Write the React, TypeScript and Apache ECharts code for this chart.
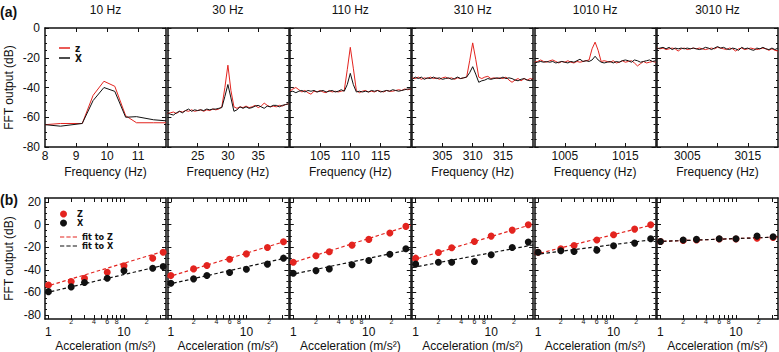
import { useEffect, useRef } from 'react';
import * as echarts from 'echarts';

// ---------- data ----------
const panelTitles = ['10 Hz', '30 Hz', '110 Hz', '310 Hz', '1010 Hz', '3010 Hz'];
const centerFreqs = [10, 30, 110, 310, 1010, 3010];

// (a) FFT spectra
const freq10 = [8, 8.5, 9.2, 9.55, 9.9, 10.25, 10.6, 10.95, 11.5, 11.9];
const spec10Z = [-65, -64.2, -64.2, -45.3, -35.8, -39.2, -59, -63.7, -63.7, -63.7];
const spec10X = [-65, -66, -64.2, -48.8, -40, -42.6, -60, -59.6, -61.7, -62.4];

// frequency bins (offset from the centre frequency, Hz)
const binOffsets = [-10, -9.5, -9, -8.5, -8, -7.5, -7, -6.5, -6, -5.5, -5, -4.5, -4, -3.5, -3, -2.5, -2, -1.5, -1, -0.5, 0, 0.5, 1, 1.5, 2, 2.5, 3, 3.5, 4, 4.5, 5, 5.5, 6, 6.5, 7, 7.5, 8, 8.5, 9, 9.5, 10];

const spec30Z = [-57.5, -57, -56.5, -57.5, -56, -56.5, -55.5, -56, -55, -56, -55.5, -55, -56, -55, -55.5, -54.5, -55, -54.5, -53, -40, -25, -42, -53, -54, -53, -53.5, -52.5, -53.5, -53, -52, -53.5, -52.5, -50.5, -52, -53, -52.5, -53, -52, -52.5, -51.5, -51];
const spec30X = [-57, -58, -58.5, -57, -56, -57, -55.5, -54.5, -56, -55, -55.5, -55, -55.5, -54.5, -55, -54.5, -54.5, -54, -53.5, -46, -38, -47, -56, -55, -53, -54, -53, -54, -53.5, -52.5, -52, -53, -54, -52.5, -53, -52, -52, -53, -52, -51.5, -51];
const spec110Z = [-42.5, -41, -40, -41.5, -43, -42, -43.5, -44.5, -42.5, -43, -42, -43, -43.5, -42, -43, -42.5, -43, -42.5, -42, -28, -13, -27, -42, -43.5, -42.5, -42, -43, -42.5, -43, -42, -42.5, -43, -42, -42.5, -42.5, -42, -41.5, -42, -41, -41.5, -41];
const spec110X = [-43, -42.5, -43.5, -42.5, -42, -43, -42, -42.5, -42, -43, -42.5, -42, -43, -42.5, -42, -43, -42.5, -41.5, -42.5, -38, -30.5, -38, -43, -42.5, -43, -42.5, -43, -42, -42.5, -42, -43, -42.5, -42, -42.5, -41.5, -42, -42.5, -42, -41.5, -41, -41];
const spec310Z = [-33.5, -34, -33, -34.5, -33.5, -34, -33, -34, -33.5, -34.5, -33.5, -33, -34, -33.5, -34.5, -33.5, -34, -33.5, -33, -22, -10, -21, -33, -34, -33, -32.5, -34, -33.5, -34, -33.5, -34, -33, -35, -36.5, -35, -34, -35.5, -34, -35, -34, -34.5];
const spec310X = [-34.5, -33, -34, -33, -34.5, -33.5, -34, -33, -34, -33.5, -34.5, -34, -33.5, -34.5, -34, -33, -34, -33.5, -33, -30, -26, -31, -36.5, -35.5, -35, -34, -34.5, -34, -33.5, -34, -33, -34, -33.5, -34, -35, -35.5, -34.5, -34, -35, -35.5, -34];
const spec1010Z = [-23, -22.5, -21.5, -22.5, -23, -22, -21.5, -22.5, -23.5, -22.5, -23, -22, -23, -23.5, -22.5, -23, -22.5, -22, -21.5, -14, -9.5, -15, -22.5, -22, -22.5, -23, -22, -23.5, -23, -22, -23, -22.5, -22, -23.5, -25.5, -24, -22.5, -23.5, -23, -22.5, -23];
const spec1010X = [-23.5, -23, -22.5, -23, -22.5, -23, -22.5, -23.5, -23, -22.5, -23, -23.5, -22.5, -23, -22, -21, -22.5, -22, -22.5, -21.5, -19, -21.5, -23, -23.5, -23, -22.5, -23.5, -22.5, -23, -22, -21.5, -22, -23, -21.5, -22, -23, -22.5, -22, -21.5, -22.5, -22];
const spec3010Z = [-13.5, -14, -13.5, -14.5, -14, -13.5, -14, -15.5, -14, -13.5, -14.5, -14, -13.5, -14, -13.5, -14, -14.5, -14, -13.5, -14, -13, -13.5, -14, -14.5, -13.5, -14, -15.5, -14, -13.5, -14.5, -14, -13.5, -14, -14.5, -14, -13.5, -14, -15, -14, -15, -15.5];
const spec3010X = [-14, -13.5, -13, -14, -13, -14.5, -13.5, -14, -13.5, -14, -13.5, -14, -13.5, -14, -14.5, -14, -13, -13.5, -14.5, -13.5, -12.5, -13.5, -13, -14, -14.5, -13.5, -14, -15, -13, -14, -13.5, -14.5, -15, -13.5, -14, -13, -14, -14.5, -13.5, -14.5, -13.5];

const freqRanges = [[8, 11.9], [20, 40], [100, 120], [300, 320], [1000, 1020], [3000, 3020]];
const freqLabels = [[8, 9, 10, 11], [25, 30, 35], [105, 110, 115], [305, 310, 315], [1005, 1015], [3005, 3015]];
const freqTicks = [[9, 10, 11], [25, 30, 35], [105, 110, 115], [305, 310, 315], [1005, 1010, 1015], [3005, 3010, 3015]];
const dbTicksA = [-80, -60, -40, -20, 0];

// (b) response vs acceleration
const accel10 = [1, 2, 3, 6, 10, 24, 33];
const accelHigh = [1, 2, 3, 6, 10, 19, 31];
const resp10Z = [-53.4, -50.4, -47.5, -42.1, -36.5, -29.7, -24.4];
const resp10X = [-59.3, -55.1, -51.3, -47.5, -40.9, -38.6, -37.1];
const resp30Z = [-45.1, -39.2, -36.2, -30.6, -25.9, -20.2, -15.2];
const resp30X = [-51.9, -48, -45.1, -42.4, -39.5, -35, -29.7];
const resp110Z = [-33.3, -27.6, -24.1, -18.2, -13.1, -7.5, -1.6];
const resp110X = [-43, -40.7, -39.2, -35.6, -31.8, -26.2, -21.4];
const resp310Z = [-29.7, -24.7, -20.5, -14.9, -10.2, -4.9, -0.1];
const resp310X = [-35, -33.3, -33.3, -32.7, -26.7, -20.2, -15.5];
const resp1010Z = [-24.4, -21.4, -18.5, -13.7, -9, -4, -0.1];
const resp1010X = [-24.4, -23.2, -23.8, -22.6, -18.8, -16.4, -12.5];
const resp3010Z = [-14.9, -14, -13.7, -12.8, -12.8, -12, -11.4];
const resp3010X = [-14.9, -13.7, -13.1, -12.5, -12.5, -10.2, -10.8];

const fitRange = [0.9, 36];
const fitZ = [[-55, -23], [-46.5, -14], [-34.5, -0.5], [-31.5, 0.5], [-26.5, 0.5], [-15, -11]];
const fitX = [[-60.5, -35.5], [-53, -29], [-44.5, -22], [-38, -18], [-26.5, -13], [-15, -11]];

const accelRange = [0.9, 36];
const accelTicks = [1, 2, 3, 4, 5, 6, 7, 8, 9, 10, 20, 30];
const accelMajorLabels = [1, 10];
const accelMinorLabels = [2, 4, 6, 8, 20];
const dbRangeB = [-83.5, 23.5];
const dbTicksB = [-80, -60, -40, -20, 0, 20];
const dbMinorB = [-75, -70, -65, -55, -50, -45, -35, -30, -25, -15, -10, -5, 5, 10, 15];

// ---------- layout / style ----------
const LEFTS = [45, 167.4, 289.8, 412.2, 534.6, 657];
const PW = 121;
const RED = '#e3241f';
const INK = '#111111';
const FONT = "'Liberation Sans', Arial, Helvetica, sans-serif";
const NARROW = "'Liberation Sans Narrow', 'DejaVu Sans Condensed', 'Liberation Sans', sans-serif";
const DASH_ICON = 'path://M0,0h4v1h-4zM6,0h4v1h-4zM12,0h4v1h-4z';

const zip = (a: number[], b: number[]) => a.map((v, i) => [v, b[i]]);

export default function App() {
  const ref = useRef<HTMLDivElement>(null);

  useEffect(() => {
    const chart = echarts.init(ref.current!, null, { renderer: 'svg' });

    const grid: any[] = [];
    const xAxis: any[] = [];
    const yAxis: any[] = [];
    const series: any[] = [];
    const graphic: any[] = [];

    const frame = { show: true, onZero: false, lineStyle: { color: INK, width: 1.5 } };
    const tickLine = { color: INK, width: 1 };
    const nameStyle = { fontSize: 12, color: INK, fontFamily: FONT };
    const labelStyle = { fontSize: 12, color: INK, fontFamily: FONT };

    const spectra = [
      { f: freq10, z: spec10Z, x: spec10X },
      { f: binOffsets.map((o) => centerFreqs[1] + o), z: spec30Z, x: spec30X },
      { f: binOffsets.map((o) => centerFreqs[2] + o), z: spec110Z, x: spec110X },
      { f: binOffsets.map((o) => centerFreqs[3] + o), z: spec310Z, x: spec310X },
      { f: binOffsets.map((o) => centerFreqs[4] + o), z: spec1010Z, x: spec1010X },
      { f: binOffsets.map((o) => centerFreqs[5] + o), z: spec3010Z, x: spec3010X },
    ];
    const responses = [
      { a: accel10, z: resp10Z, x: resp10X },
      { a: accelHigh, z: resp30Z, x: resp30X },
      { a: accelHigh, z: resp110Z, x: resp110X },
      { a: accelHigh, z: resp310Z, x: resp310X },
      { a: accelHigh, z: resp1010Z, x: resp1010X },
      { a: accelHigh, z: resp3010Z, x: resp3010X },
    ];

    // ---- row (a) ----
    for (let i = 0; i < 6; i++) {
      const g = grid.length;
      grid.push({ left: LEFTS[i], top: 28, width: PW, height: 119, outerBoundsMode: 'none' });
      const [fmin, fmax] = freqRanges[i];
      const xb = xAxis.length;
      xAxis.push({
        type: 'value', gridIndex: g, min: fmin, max: fmax, position: 'bottom',
        axisLine: frame,
        axisTick: { inside: true, length: 4, customValues: freqTicks[i], lineStyle: tickLine },
        axisLabel: { customValues: freqLabels[i], margin: 3, ...labelStyle, formatter: (v: number) => String(v) },
        splitLine: { show: false },
        name: 'Frequency (Hz)', nameLocation: 'middle', nameGap: 19, nameTextStyle: nameStyle,
      });
      xAxis.push({
        type: 'value', gridIndex: g, min: fmin, max: fmax, position: 'top',
        axisLine: frame,
        axisTick: { inside: true, length: 4, customValues: freqTicks[i], lineStyle: tickLine },
        axisLabel: { show: false }, splitLine: { show: false },
      });
      const yl = yAxis.length;
      for (const pos of ['left', 'right']) {
        yAxis.push({
          type: 'value', gridIndex: g, min: -80, max: 0, interval: 20, position: pos,
          axisLine: frame,
          axisTick: { inside: true, length: 4, lineStyle: tickLine },
          minorTick: { show: true, splitNumber: 4, length: 2, lineStyle: tickLine },
          axisLabel: { show: i === 0 && pos === 'left', customValues: dbTicksA, margin: 5, ...labelStyle },
          splitLine: { show: false }, minorSplitLine: { show: false },
          name: i === 0 && pos === 'left' ? 'FFT output (dB)' : '',
          nameLocation: 'middle', nameGap: 30, nameRotate: 90, nameTextStyle: nameStyle,
        });
      }
      const s = spectra[i];
      series.push({
        type: 'line', name: 'z', xAxisIndex: xb, yAxisIndex: yl, data: zip(s.f, s.z),
        symbol: 'none', showSymbol: false, lineStyle: { color: RED, width: 1 }, itemStyle: { color: RED }, clip: true, z: 2,
      });
      series.push({
        type: 'line', name: 'X', xAxisIndex: xb, yAxisIndex: yl, data: zip(s.f, s.x),
        symbol: 'none', showSymbol: false, lineStyle: { color: INK, width: 1 }, itemStyle: { color: INK }, clip: true, z: 3,
      });
      graphic.push({
        type: 'text', x: LEFTS[i] + PW / 2, y: 10,
        style: { text: panelTitles[i], fontSize: 12, fontFamily: FONT, fill: INK, textAlign: 'center', textVerticalAlign: 'middle' },
      });
    }

    // ---- row (b) ----
    for (let i = 0; i < 6; i++) {
      const g = grid.length;
      grid.push({ left: LEFTS[i], top: 198, width: PW, height: 121, outerBoundsMode: 'none' });
      const xb = xAxis.length;
      xAxis.push({
        type: 'log', logBase: 10, gridIndex: g, min: accelRange[0], max: accelRange[1], position: 'bottom',
        axisLine: frame,
        axisTick: { inside: true, length: 4, customValues: accelTicks, lineStyle: tickLine },
        axisLabel: { customValues: accelMajorLabels, margin: 7, ...labelStyle, formatter: (v: number) => String(Math.round(v)) },
        splitLine: { show: false },
        name: 'Acceleration (m/s²)', nameLocation: 'middle', nameGap: 21, nameTextStyle: nameStyle,
      });
      xAxis.push({
        type: 'log', logBase: 10, gridIndex: g, min: accelRange[0], max: accelRange[1], position: 'bottom',
        axisLine: { show: false, onZero: false }, axisTick: { show: false },
        axisLabel: {
          customValues: accelMinorLabels, margin: -1, fontSize: 7, color: INK, fontFamily: FONT,
          formatter: (v: number) => String(Math.round(v)).charAt(0),
        },
        splitLine: { show: false },
      });
      xAxis.push({
        type: 'log', logBase: 10, gridIndex: g, min: accelRange[0], max: accelRange[1], position: 'top',
        axisLine: frame,
        axisTick: { inside: true, length: 4, customValues: accelTicks, lineStyle: tickLine },
        axisLabel: { show: false }, splitLine: { show: false },
      });
      const yl = yAxis.length;
      for (const pos of ['left', 'right']) {
        yAxis.push({
          type: 'value', gridIndex: g, min: dbRangeB[0], max: dbRangeB[1], position: pos,
          axisLine: frame,
          axisTick: { inside: true, length: 4, customValues: dbTicksB, lineStyle: tickLine },
          axisLabel: { show: i === 0 && pos === 'left', customValues: dbTicksB, margin: 4, ...labelStyle },
          splitLine: { show: false },
          name: i === 0 && pos === 'left' ? 'FFT output (dB)' : '',
          nameLocation: 'middle', nameGap: 30, nameRotate: 90, nameTextStyle: nameStyle,
        });
        yAxis.push({
          type: 'value', gridIndex: g, min: dbRangeB[0], max: dbRangeB[1], position: pos,
          axisLine: { show: false, onZero: false },
          axisTick: { inside: true, length: 2, customValues: dbMinorB, lineStyle: tickLine },
          axisLabel: { show: false }, splitLine: { show: false },
        });
      }
      const r = responses[i];
      series.push({
        type: 'line', name: 'fit to Z', xAxisIndex: xb, yAxisIndex: yl, data: zip(fitRange, fitZ[i]),
        symbol: 'none', showSymbol: false, lineStyle: { color: RED, width: 1.2, type: [3.5, 2.5] }, itemStyle: { color: RED }, clip: true, z: 2,
      });
      series.push({
        type: 'line', name: 'fit to X', xAxisIndex: xb, yAxisIndex: yl, data: zip(fitRange, fitX[i]),
        symbol: 'none', showSymbol: false, lineStyle: { color: INK, width: 1.2, type: [3.5, 2.5] }, itemStyle: { color: INK }, clip: true, z: 2,
      });
      series.push({
        type: 'scatter', name: 'Z pts', xAxisIndex: xb, yAxisIndex: yl, data: zip(r.a, r.z),
        symbol: 'circle', symbolSize: 7, itemStyle: { color: RED, opacity: 1 }, clip: true, z: 3,
      });
      series.push({
        type: 'scatter', name: 'X pts', xAxisIndex: xb, yAxisIndex: yl, data: zip(r.a, r.x),
        symbol: 'circle', symbolSize: 7, itemStyle: { color: INK, opacity: 1 }, clip: true, z: 4,
      });
    }

    graphic.push({
      type: 'text', x: 0, y: 12,
      style: { text: '(a)', fontSize: 14, fontWeight: 'bold', fontFamily: FONT, fill: INK, textVerticalAlign: 'middle' },
    });
    graphic.push({
      type: 'text', x: 0, y: 200,
      style: { text: '(b)', fontSize: 14, fontWeight: 'bold', fontFamily: FONT, fill: INK, textVerticalAlign: 'middle' },
    });

    chart.setOption({
      animation: false,
      backgroundColor: '#ffffff',
      grid, xAxis, yAxis, series, graphic,
      legend: [
        {
          data: [{ name: 'z', icon: 'rect' }, { name: 'X', icon: 'rect' }],
          left: 54, top: 38, orient: 'vertical', selectedMode: false,
          itemWidth: 11, itemHeight: 1.5, itemGap: 0,
          textStyle: { fontSize: 10, lineHeight: 10, color: INK, fontFamily: NARROW, fontWeight: 'bold' },
        },
        {
          data: [{ name: 'Z pts', icon: 'circle' }, { name: 'X pts', icon: 'circle' }],
          formatter: (n: string) => n.split(' ')[0],
          left: 55, top: 204.5, orient: 'vertical', selectedMode: false,
          itemWidth: 17, itemHeight: 7, itemGap: 0,
          itemStyle: { opacity: 1 },
          textStyle: { fontSize: 9, lineHeight: 9, color: INK, fontFamily: NARROW, fontWeight: 'bold' },
        },
        {
          data: [{ name: 'fit to Z', icon: DASH_ICON }, { name: 'fit to X', icon: DASH_ICON }],
          left: 55, top: 227.5, orient: 'vertical', selectedMode: false,
          itemWidth: 17, itemHeight: 1.2, itemGap: 0,
          textStyle: { fontSize: 9, lineHeight: 9, color: INK, fontFamily: NARROW, fontWeight: 'bold' },
        },
      ],
    });

    return () => chart.dispose();
  }, []);

  return (
    <div
      ref={ref}
      style={{ position: 'fixed', left: 0, top: 0, width: 779, height: 352, background: '#fff' }}
    />
  );
}
